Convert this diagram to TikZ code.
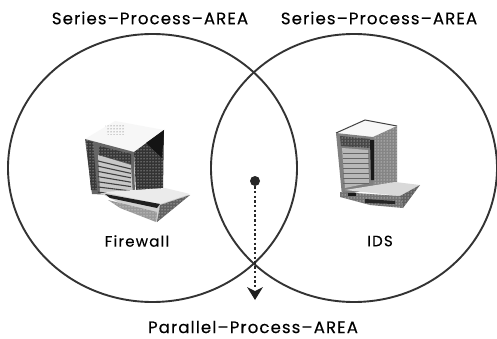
\documentclass[tikz,border=0pt]{standalone}
\usepackage{fontspec}
\setmainfont{Poppins}[FakeBold=0.25]
\usetikzlibrary{arrows.meta,patterns}
\tikzset{
  x=1pt,y=-1pt,
  area/.style={draw=black!80,line width=1.9pt},
  lbl/.style={inner sep=0pt,font=\fontsize{16.6}{18}\selectfont\addfontfeature{LetterSpace=6.5}},
  capt/.style={inner sep=0pt,font=\fontsize{15}{16}\selectfont\addfontfeature{LetterSpace=8}},
  slat/.style={draw=black!75,line width=1.1pt},
  grain/.style={pattern=dots,pattern color=white},
  grainb/.style={pattern=dots,pattern color=black!70},
  dotnode/.style={circle,fill=black!85,minimum size=10pt,inner sep=0pt},
  flow/.style={draw=black!85,line width=2.4pt,dash pattern=on 2.4pt off 2.3pt}
}
\begin{document}
\begin{tikzpicture}
\useasboundingbox (0,0) rectangle (497,339);
\fill[white] (0,0) rectangle (497,339);
% circles
\draw[area] (152.5,168) ellipse [x radius=144.5,y radius=134];
\draw[area] (354,168) ellipse [x radius=143,y radius=134];
% firewall server
\fill[black!3] (85,139) -- (115,121) -- (164,130) -- (134,152) -- cycle;
\path[grainb] (105,126) -- (125,124) -- (125,135) -- (108,135) -- cycle;
\fill[black!60] (85,139) -- (134,152) -- (135,196) -- (92,194) -- cycle;
\fill[black!22] (98,155) -- (131,165) -- (133,196) -- (100,192) -- cycle;
\foreach \i in {0,...,6}{
  \draw[slat] (98,{161+\i*5.2}) -- (131,{169+\i*4.4});
}
\fill[black!78] (86,140) -- (93,142) -- (97,190) -- (91,190) -- cycle;
\path[grain] (86,140) -- (93,142) -- (97,190) -- (91,190) -- cycle;
\fill[black!78] (99,146) -- (131,154) -- (131,164) -- (99,155) -- cycle;
\path[grain] (99,146) -- (131,154) -- (131,164) -- (99,155) -- cycle;
\fill[black!80] (134,152) -- (164,130) -- (163,190) -- (136,192) -- cycle;
\path[grain] (134,152) -- (164,130) -- (163,190) -- (136,192) -- cycle;
\fill[black!92] (146,143) -- (164,130) -- (162,158) -- cycle;
% firewall box
\fill[black!18] (100,193) -- (157,222) -- (190,195) -- (165,189) -- (125,193) -- cycle;
\fill[black!8] (103,192) -- (165,188) -- (190,194) -- (160,204) -- cycle;
\fill[black!88] (105,194) -- (160,204) -- (157,208) -- (110,198) -- cycle;
\fill[black!62] (160,205) -- (190,195) -- (157,222) -- cycle;
\path[grain] (160,205) -- (190,195) -- (157,222) -- cycle;
\fill[black!40] (108,200) -- (157,212) -- (156,222) -- (120,208) -- cycle;
\path[grain] (108,200) -- (157,212) -- (156,222) -- (120,208) -- cycle;
% IDS server
\fill[black!3] (336,133) -- (365,120) -- (397,126) -- (373,137) -- cycle;
\draw[black!75,line width=1pt] (336,133) -- (365,120) -- (397,126);
\fill[black!50] (336,133) -- (373,137) -- (373,188) -- (342,196) -- cycle;
\fill[black!28] (342,148) -- (368,150) -- (369,183) -- (345,188) -- cycle;
\foreach \i in {0,...,6}{
  \draw[black!60,line width=.9pt] (343,{153+\i*5}) -- (369,{153+\i*5});
}
\fill[black!72] (340,136) -- (370,139) -- (370,148) -- (341,146) -- cycle;
\path[grain] (340,136) -- (370,139) -- (370,148) -- (341,146) -- cycle;
\fill[black!48] (373,137) -- (397,126) -- (397,182) -- (373,188) -- cycle;
\path[grain] (373,137) -- (397,126) -- (397,182) -- (373,188) -- cycle;
\fill[black!90] (370,140) -- (374,140) -- (374,180) -- (371,180) -- cycle;
% IDS box
\fill[black!15] (345,190) -- (395,182) -- (420,185) -- (400,196) -- cycle;
\fill[black!55] (340,192) -- (400,196) -- (403,208) -- (370,205) -- (340,197) -- cycle;
\path[grain] (340,192) -- (400,196) -- (403,208) -- (370,205) -- (340,197) -- cycle;
\fill[black!62] (400,196) -- (420,185) -- (403,208) -- cycle;
\path[grain] (400,196) -- (420,185) -- (403,208) -- cycle;
\fill[black!90] (348,193) rectangle (356,196);
\fill[black!85] (365,199) -- (395,201) -- (395,204) -- (365,203) -- cycle;
% labels
\node[lbl] (s1) at (150,18) {Series–Process–AREA};
\node[lbl] (s2) at (379,18) {Series–Process–AREA};
\node[lbl] (pp) at (253,327) {Parallel–Process–AREA};
\node[capt] (fw) at (137,241) {Firewall};
\node[capt] (ids) at (380,241) {IDS};
% arrow
\node[dotnode] (dot) at (255,181) {};
\coordinate (end) at (255,300);
\draw[flow] (dot) -- (255,289);
\fill[black!88] (247,287) -- (255,291) -- (263,287) -- (end) -- cycle;
\end{tikzpicture}
\end{document}
